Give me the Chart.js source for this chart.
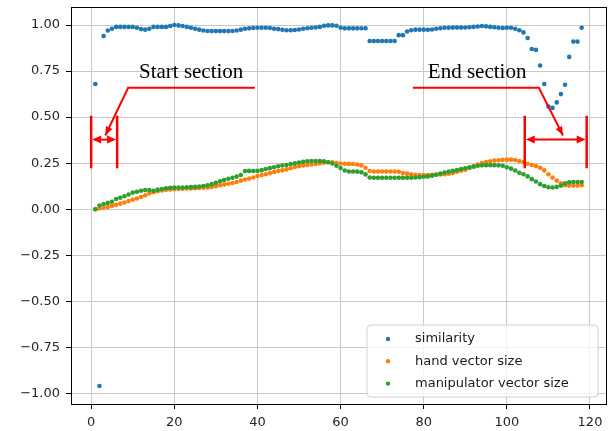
<!DOCTYPE html>
<html>
<head>
<meta charset="utf-8">
<script src="https://cdn.jsdelivr.net/npm/chart.js@4.4.0/dist/chart.umd.min.js"></script>
<style>
  html, body { margin: 0; padding: 0; background: #fff; }
</style>
</head>
<body>
<canvas id="simChart" width="615" height="431"></canvas>
<script>
// frame index
var frames = [
  1, 2, 3, 4, 5, 6, 7, 8, 9, 10,
  11, 12, 13, 14, 15, 16, 17, 18, 19, 20,
  21, 22, 23, 24, 25, 26, 27, 28, 29, 30,
  31, 32, 33, 34, 35, 36, 37, 38, 39, 40,
  41, 42, 43, 44, 45, 46, 47, 48, 49, 50,
  51, 52, 53, 54, 55, 56, 57, 58, 59, 60,
  61, 62, 63, 64, 65, 66, 67, 68, 69, 70,
  71, 72, 73, 74, 75, 76, 77, 78, 79, 80,
  81, 82, 83, 84, 85, 86, 87, 88, 89, 90,
  91, 92, 93, 94, 95, 96, 97, 98, 99, 100,
  101, 102, 103, 104, 105, 106, 107, 108, 109, 110,
  111, 112, 113, 114, 115, 116, 117, 118
];

var similarity = [
  0.68, -0.96, 0.94, 0.97, 0.98, 0.99, 0.99, 0.99, 0.99, 0.99,
  0.985, 0.978, 0.975, 0.98, 0.99, 0.99, 0.99, 0.99, 0.995, 1.0,
  0.998, 0.995, 0.99, 0.985, 0.98, 0.975, 0.97, 0.968, 0.967, 0.967,
  0.967, 0.967, 0.967, 0.968, 0.97, 0.975, 0.98, 0.982, 0.984, 0.985,
  0.985, 0.985, 0.984, 0.98, 0.978, 0.974, 0.972, 0.972, 0.973, 0.976,
  0.98, 0.983, 0.985, 0.987, 0.99, 0.996, 0.998, 0.998, 0.996, 0.985,
  0.982, 0.982, 0.982, 0.982, 0.983, 0.983, 0.913, 0.913, 0.913, 0.913,
  0.913, 0.913, 0.913, 0.945, 0.945, 0.965, 0.972, 0.975, 0.975, 0.975,
  0.974, 0.976, 0.98, 0.983, 0.985, 0.985, 0.986, 0.986, 0.986, 0.987,
  0.988, 0.99, 0.992, 0.995, 0.993, 0.99, 0.988, 0.985, 0.984, 0.985,
  0.985, 0.98, 0.972, 0.96, 0.93, 0.87, 0.865, 0.78, 0.68, 0.557,
  0.55, 0.58, 0.625, 0.676, 0.827, 0.91, 0.91, 0.985
];

var handSize = [
  0.000, 0.004, 0.008, 0.012, 0.018, 0.024, 0.030, 0.036, 0.044, 0.052,
  0.058, 0.066, 0.076, 0.086, 0.092, 0.097, 0.102, 0.105, 0.107, 0.108,
  0.110, 0.111, 0.112, 0.113, 0.114, 0.115, 0.116, 0.118, 0.121, 0.125,
  0.130, 0.134, 0.138, 0.142, 0.148, 0.155, 0.161, 0.166, 0.172, 0.180,
  0.185, 0.190, 0.196, 0.202, 0.207, 0.211, 0.216, 0.222, 0.229, 0.233,
  0.237, 0.240, 0.243, 0.246, 0.249, 0.252, 0.255, 0.254, 0.251, 0.248,
  0.247, 0.246, 0.245, 0.243, 0.238, 0.225, 0.207, 0.205, 0.205, 0.205,
  0.205, 0.205, 0.204, 0.203, 0.196, 0.193, 0.190, 0.187, 0.186, 0.186,
  0.186, 0.187, 0.188, 0.189, 0.190, 0.193, 0.197, 0.203, 0.209, 0.214,
  0.224, 0.233, 0.242, 0.250, 0.256, 0.260, 0.264, 0.266, 0.268, 0.269,
  0.269, 0.267, 0.262, 0.256, 0.247, 0.240, 0.234, 0.225, 0.211, 0.190,
  0.172, 0.155, 0.140, 0.130, 0.128, 0.128, 0.128, 0.130
];

var manipSize = [
  0.000, 0.020, 0.028, 0.034, 0.040, 0.055, 0.062, 0.070, 0.080, 0.090,
  0.095, 0.100, 0.104, 0.104, 0.100, 0.106, 0.110, 0.114, 0.116, 0.117,
  0.118, 0.118, 0.119, 0.120, 0.121, 0.123, 0.126, 0.130, 0.136, 0.143,
  0.152, 0.158, 0.165, 0.171, 0.177, 0.186, 0.207, 0.208, 0.207, 0.208,
  0.212, 0.218, 0.223, 0.228, 0.233, 0.237, 0.240, 0.245, 0.249, 0.253,
  0.257, 0.260, 0.261, 0.261, 0.261, 0.260, 0.255, 0.248, 0.236, 0.224,
  0.210, 0.205, 0.205, 0.204, 0.200, 0.189, 0.172, 0.171, 0.171, 0.171,
  0.171, 0.171, 0.171, 0.171, 0.171, 0.171, 0.171, 0.172, 0.174, 0.176,
  0.178, 0.182, 0.187, 0.193, 0.199, 0.204, 0.208, 0.213, 0.218, 0.222,
  0.227, 0.231, 0.236, 0.238, 0.239, 0.239, 0.239, 0.238, 0.236, 0.228,
  0.220, 0.210, 0.198, 0.190, 0.178, 0.163, 0.150, 0.136, 0.126, 0.119,
  0.118, 0.121, 0.128, 0.140, 0.146, 0.148, 0.148, 0.147
];

var xTicks = [0, 20, 40, 60, 80, 100, 120];
var yTicks = [-1, -0.75, -0.5, -0.25, 0, 0.25, 0.5, 0.75, 1];
var seriesLabels = ['similarity', 'hand vector size', 'manipulator vector size'];
var seriesColors = ['#1f77b4', '#ff7f0e', '#2ca02c'];

// red call-outs, in data units
var sections = [
  { text: 'Start section', textAt: [11.5, 0.714], elbow: [8.9, 0.659], lineEnd: 39.4, tip: [3.4, 0.40], bars: [0, 6.25] },
  { text: 'End section', textAt: [81, 0.714], elbow: [107.7, 0.659], lineEnd: 77.4, tip: [113.5, 0.40], bars: [104.3, 119.2] }
];
var barTop = 0.508, barBottom = 0.222, spanY = 0.378;

function toPoints(ys) {
  return ys.map(function (y, i) { return { x: frames[i], y: y }; });
}

function arrowHead(ctx, fx, fy, tx, ty, len, half) {
  var a = Math.atan2(ty - fy, tx - fx);
  ctx.beginPath();
  ctx.moveTo(tx, ty);
  ctx.lineTo(tx - len * Math.cos(a) + half * Math.sin(a), ty - len * Math.sin(a) - half * Math.cos(a));
  ctx.lineTo(tx - len * Math.cos(a) - half * Math.sin(a), ty - len * Math.sin(a) + half * Math.cos(a));
  ctx.closePath();
  ctx.fill();
}

var framePlugin = {
  id: 'frame',
  afterDraw: function (chart) {
    var a = chart.chartArea, ctx = chart.ctx;
    ctx.save();
    ctx.strokeStyle = '#000';
    ctx.lineWidth = 1;
    ctx.strokeRect(Math.round(a.left) + 0.5, Math.round(a.top) + 0.5,
      Math.round(a.right - a.left), Math.round(a.bottom - a.top));
    ctx.restore();
  }
};

var sectionPlugin = {
  id: 'sections',
  afterDatasetsDraw: function (chart) {
    var ctx = chart.ctx, xs = chart.scales.x, ys = chart.scales.y;
    ctx.save();
    ctx.strokeStyle = '#ff0000';
    ctx.fillStyle = '#ff0000';
    sections.forEach(function (s) {
      var ex = xs.getPixelForValue(s.elbow[0]), ey = ys.getPixelForValue(s.elbow[1]);
      var tx = xs.getPixelForValue(s.tip[0]), ty = ys.getPixelForValue(s.tip[1]);
      var lx = xs.getPixelForValue(s.lineEnd);
      ctx.lineWidth = 2;
      ctx.beginPath();
      ctx.moveTo(lx, ey);
      ctx.lineTo(ex, ey);
      ctx.lineTo(tx, ty);
      ctx.stroke();
      arrowHead(ctx, ex, ey, tx, ty, 9, 3.5);

      var b0 = xs.getPixelForValue(s.bars[0]), b1 = xs.getPixelForValue(s.bars[1]);
      var yt = ys.getPixelForValue(barTop), yb = ys.getPixelForValue(barBottom);
      var ym = ys.getPixelForValue(spanY);
      ctx.lineWidth = 2.5;
      ctx.beginPath();
      ctx.moveTo(b0, yt); ctx.lineTo(b0, yb);
      ctx.moveTo(b1, yt); ctx.lineTo(b1, yb);
      ctx.stroke();
      ctx.lineWidth = 2;
      ctx.beginPath();
      ctx.moveTo(b0 + 6, ym); ctx.lineTo(b1 - 6, ym);
      ctx.stroke();
      arrowHead(ctx, b1, ym, b0 + 1, ym, 9, 4);
      arrowHead(ctx, b0, ym, b1 - 1, ym, 9, 4);

      ctx.fillStyle = '#000';
      ctx.font = '21px "Liberation Serif", "Times New Roman", serif';
      ctx.textAlign = 'left';
      ctx.textBaseline = 'alphabetic';
      ctx.fillText(s.text, xs.getPixelForValue(s.textAt[0]), ys.getPixelForValue(s.textAt[1]));
      ctx.fillStyle = '#ff0000';
    });
    ctx.restore();
  }
};

var legendPlugin = {
  id: 'boxLegend',
  afterDraw: function (chart) {
    var ctx = chart.ctx, a = chart.chartArea;
    var w = 231, h = 72, r = 4;
    var x0 = a.right - 8 - w, y0 = a.bottom - 7 - h;
    ctx.save();
    ctx.beginPath();
    ctx.moveTo(x0 + r, y0);
    ctx.arcTo(x0 + w, y0, x0 + w, y0 + h, r);
    ctx.arcTo(x0 + w, y0 + h, x0, y0 + h, r);
    ctx.arcTo(x0, y0 + h, x0, y0, r);
    ctx.arcTo(x0, y0, x0 + w, y0, r);
    ctx.closePath();
    ctx.fillStyle = 'rgba(255,255,255,0.8)';
    ctx.fill();
    ctx.strokeStyle = '#d0d0d0';
    ctx.lineWidth = 1;
    ctx.stroke();
    ctx.font = '13px "DejaVu Sans", sans-serif';
    ctx.textBaseline = 'middle';
    ctx.textAlign = 'left';
    chart.data.datasets.forEach(function (ds, i) {
      var cy = y0 + 14 + i * 22.3;
      ctx.fillStyle = ds.backgroundColor;
      ctx.beginPath();
      ctx.arc(x0 + 21, cy, 2.2, 0, Math.PI * 2);
      ctx.fill();
      ctx.fillStyle = '#1a1a1a';
      ctx.fillText(ds.label, x0 + 48, cy);
    });
    ctx.restore();
  }
};

var tickFont = { family: '"DejaVu Sans", sans-serif', size: 13 };

new Chart(document.getElementById('simChart'), {
  type: 'scatter',
  data: {
    datasets: [
      { label: seriesLabels[0], data: toPoints(similarity), backgroundColor: seriesColors[0], order: 3 },
      { label: seriesLabels[1], data: toPoints(handSize), backgroundColor: seriesColors[1], order: 2 },
      { label: seriesLabels[2], data: toPoints(manipSize), backgroundColor: seriesColors[2], order: 1 }
    ]
  },
  options: {
    responsive: false,
    animation: false,
    elements: { point: { radius: 2.3, borderWidth: 0, hoverRadius: 2.3 } },
    layout: { padding: { top: 7, right: 9, left: 0, bottom: 0 } },
    plugins: { legend: { display: false }, tooltip: { enabled: false } },
    scales: {
      x: {
        type: 'linear',
        min: -4.85,
        max: 123.85,
        afterBuildTicks: function (s) { s.ticks = xTicks.map(function (v) { return { value: v }; }); },
        afterFit: function (s) { s.height = 27; s.paddingLeft = 0; s.paddingRight = 0; },
        grid: { color: '#c8c8c8', lineWidth: 1, tickColor: '#000', tickLength: 5 },
        border: { display: false },
        ticks: { color: '#262626', font: tickFont, padding: 6, maxRotation: 0,
          callback: function (v) { return String(v); } }
      },
      y: {
        type: 'linear',
        min: -1.058,
        max: 1.098,
        afterBuildTicks: function (s) { s.ticks = yTicks.map(function (v) { return { value: v }; }); },
        afterFit: function (s) { s.width = 71; s.paddingTop = 0; s.paddingBottom = 0; },
        grid: { color: '#c8c8c8', lineWidth: 1, tickColor: '#000', tickLength: 5 },
        border: { display: false },
        ticks: { color: '#262626', font: tickFont, padding: 6,
          callback: function (v) { return v.toFixed(2).replace('-', '\u2212'); } }
      }
    }
  },
  plugins: [framePlugin, sectionPlugin, legendPlugin]
});
</script>
</body>
</html>
